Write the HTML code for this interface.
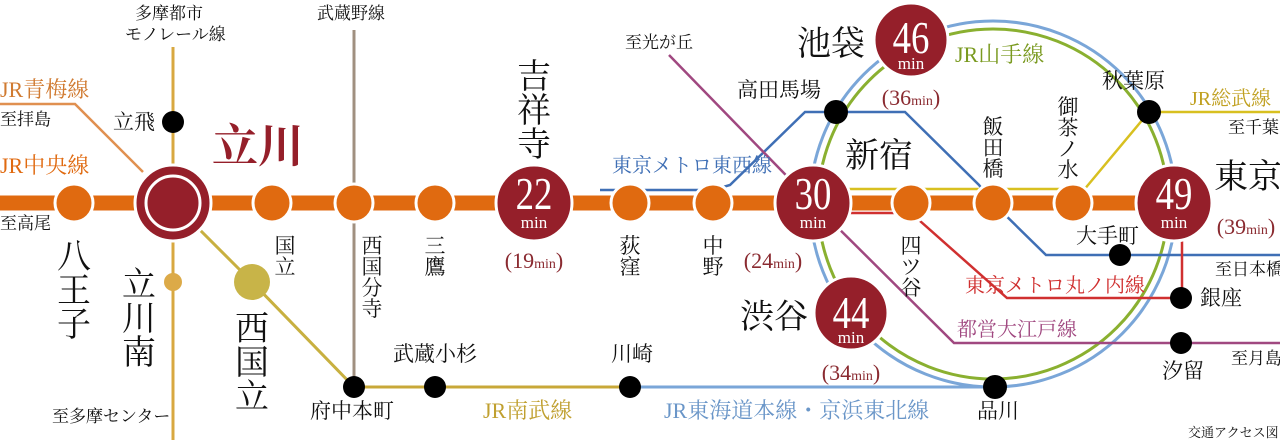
<!DOCTYPE html>
<html><head><meta charset="utf-8"><style>
html,body{margin:0;padding:0;background:#fff;width:1280px;height:440px;overflow:hidden}
svg{display:block}
text{font-family:"Liberation Serif","Noto Serif CJK SC","Noto Sans CJK JP",serif}
.s{font-size:17px;fill:#111}
.v{font-size:21px;fill:#111}
</style></head><body>
<svg width="1280" height="440" viewBox="0 0 1280 440" xmlns="http://www.w3.org/2000/svg">
<circle cx="993" cy="204" r="183" fill="none" stroke="#7aa6d8" stroke-width="3"/>
<circle cx="993" cy="204" r="175" fill="none" stroke="#8ab030" stroke-width="3"/>
<line x1="173" y1="47" x2="173" y2="440" stroke="#d8a840" stroke-width="3"/>
<line x1="354" y1="30" x2="354" y2="387" stroke="#a09080" stroke-width="3"/>
<polyline points="0,104 75,104 143,172" fill="none" stroke="#e09050" stroke-width="2.5"/>
<polyline points="173,203 252,282 354,387" fill="none" stroke="#c8b040" stroke-width="3"/>
<line x1="354" y1="387" x2="630" y2="387" stroke="#c8a838" stroke-width="3"/>
<line x1="630" y1="387" x2="995" y2="387" stroke="#7aa6d8" stroke-width="3"/>
<polyline points="600,190 713,190 730,185 805,112 905,112 979,185 993,203 1046,255 1280,255" fill="none" stroke="#3f6fb5" stroke-width="2.5"/>
<polyline points="813,213 911,213 1007,298 1181,298" fill="none" stroke="#d03030" stroke-width="2.5"/>
<line x1="1182" y1="203" x2="1182" y2="298" stroke="#d03030" stroke-width="2.5"/>
<polyline points="669,55 813,203 954,343 1280,343" fill="none" stroke="#a04880" stroke-width="2.5"/>
<polyline points="1280,112 1149,112 1073,203" fill="none" stroke="#d8c020" stroke-width="2.5"/>
<line x1="813" y1="189" x2="1073" y2="189" stroke="#d8c020" stroke-width="2.5"/>
<line x1="0" y1="203" x2="1174" y2="203" stroke="#e06a10" stroke-width="15"/>
<g fill="#e06a10" stroke="#fff" stroke-width="3">
<circle cx="74" cy="203" r="19"/><circle cx="272" cy="203" r="19"/><circle cx="354" cy="203" r="19"/>
<circle cx="435" cy="203" r="19"/><circle cx="630" cy="203" r="19"/><circle cx="713" cy="203" r="19"/>
<circle cx="911" cy="203" r="19"/><circle cx="993" cy="203" r="19"/><circle cx="1073" cy="203" r="19"/>
</g>
<g fill="#951f2a" stroke="#fff" stroke-width="3">
<circle cx="173" cy="203" r="38"/>
<circle cx="534" cy="203" r="38"/><circle cx="813" cy="203" r="38"/><circle cx="1174" cy="203" r="38"/>
<circle cx="911" cy="40" r="37"/><circle cx="851" cy="313" r="37"/>
</g>
<circle cx="173" cy="203" r="27" fill="#951f2a" stroke="#fff" stroke-width="3"/>
<circle cx="173" cy="282" r="9" fill="#dcaa48"/>
<circle cx="252" cy="282" r="18" fill="#c8b448"/>
<g fill="#000">
<circle cx="173" cy="122" r="11"/><circle cx="354" cy="387" r="11"/><circle cx="435" cy="387" r="11"/>
<circle cx="630" cy="387" r="11"/><circle cx="995" cy="387" r="12"/><circle cx="836" cy="112" r="12"/>
<circle cx="1149" cy="112" r="12"/><circle cx="1120" cy="255" r="11"/><circle cx="1181" cy="298" r="11"/>
<circle cx="1181" cy="343" r="11"/>
</g>
<g fill="#fff" text-anchor="middle">
<g font-size="46">
<text transform="translate(534,209) scale(0.8,1)">22</text>
<text transform="translate(813,209) scale(0.8,1)">30</text>
<text transform="translate(1174,209) scale(0.8,1)">49</text>
<text transform="translate(911,53) scale(0.8,1)">46</text>
<text transform="translate(851,328) scale(0.8,1)">44</text>
</g>
<g font-size="17">
<text x="534" y="228">min</text><text x="813" y="228">min</text><text x="1174" y="228">min</text>
<text x="911" y="69">min</text><text x="851" y="343">min</text>
</g>
</g>
<g fill="#8a2a30" font-size="22" text-anchor="middle">
<text x="534" y="268">(19<tspan font-size="14">min</tspan>)</text>
<text x="773" y="268">(24<tspan font-size="14">min</tspan>)</text>
<text x="911" y="105">(36<tspan font-size="14">min</tspan>)</text>
<text x="851" y="380">(34<tspan font-size="14">min</tspan>)</text>
<text x="1246" y="234">(39<tspan font-size="14">min</tspan>)</text>
</g>
<text x="212" y="162" font-size="46" fill="#951f2a" font-weight="bold">立川</text>
<text x="534" y="88" font-size="34" fill="#111" text-anchor="middle">吉</text>
<text x="534" y="122" font-size="34" fill="#111" text-anchor="middle">祥</text>
<text x="534" y="156" font-size="34" fill="#111" text-anchor="middle">寺</text>
<text x="845" y="167" font-size="34" fill="#111">新宿</text>
<text x="797" y="55" font-size="34" fill="#111">池袋</text>
<text x="740" y="328" font-size="34" fill="#111">渋谷</text>
<text x="1214" y="188" font-size="34" fill="#111">東京</text>
<g font-size="34" fill="#111" text-anchor="middle">
<text x="74" y="268">八</text><text x="74" y="302">王</text><text x="74" y="336">子</text>
<text x="139" y="296">立</text><text x="139" y="330">川</text><text x="139" y="364">南</text>
<text x="252" y="340">西</text><text x="252" y="374">国</text><text x="252" y="408">立</text>
</g>
<g class="v" text-anchor="middle">
<text x="285" y="253">国</text><text x="285" y="274">立</text>
<text x="372" y="253">西</text><text x="372" y="274">国</text><text x="372" y="295">分</text><text x="372" y="316">寺</text>
<text x="435" y="253">三</text><text x="435" y="274">鷹</text>
<text x="630" y="253">荻</text><text x="630" y="274">窪</text>
<text x="713" y="253">中</text><text x="713" y="274">野</text>
<text x="911" y="253">四</text><text x="911" y="274">ツ</text><text x="911" y="295">谷</text>
<text x="993" y="134">飯</text><text x="993" y="155">田</text><text x="993" y="176">橋</text>
<text x="1068" y="114">御</text><text x="1068" y="135">茶</text><text x="1068" y="156">ノ</text><text x="1068" y="177">水</text>
</g>
<g class="v">
<text x="113" y="129">立飛</text>
<text x="737" y="97">高田馬場</text>
<text x="1102" y="88">秋葉原</text>
<text x="1076" y="243">大手町</text>
<text x="1200" y="305">銀座</text>
<text x="1162" y="378">汐留</text>
<text x="977" y="418">品川</text>
<text x="310" y="418">府中本町</text>
<text x="393" y="361">武蔵小杉</text>
<text x="611" y="361">川崎</text>
</g>
<g class="s">
<text x="135" y="19">多摩都市</text><text x="125" y="40">モノレール線</text>
<text x="317" y="19">武蔵野線</text>
<text x="0" y="125">至拝島</text>
<text x="0" y="229">至高尾</text>
<text x="52" y="422">至多摩センター</text>
<text x="625" y="48">至光が丘</text>
<text x="1228" y="133">至千葉</text>
<text x="1215" y="275">至日本橋</text>
<text x="1231" y="364">至月島</text>
<text x="1188" y="437" font-size="13">交通アクセス図</text>
</g>
<g font-size="22">
<text x="0" y="97" fill="#d07a30">JR青梅線</text>
<text x="0" y="173" fill="#e06a10">JR中央線</text>
<text x="612" y="172" fill="#3f6fb5" font-size="20">東京メトロ東西線</text>
<text x="955" y="62" fill="#7a9a20">JR山手線</text>
<text x="1190" y="105" fill="#c0a020" font-size="20">JR総武線</text>
<text x="965" y="292" fill="#d03030" font-size="20">東京メトロ丸ノ内線</text>
<text x="957" y="336" fill="#a04880" font-size="20">都営大江戸線</text>
<text x="483" y="418" fill="#c0a030">JR南武線</text>
<text x="664" y="418" fill="#6a96c8">JR東海道本線・京浜東北線</text>
</g>
</svg>
</body></html>
